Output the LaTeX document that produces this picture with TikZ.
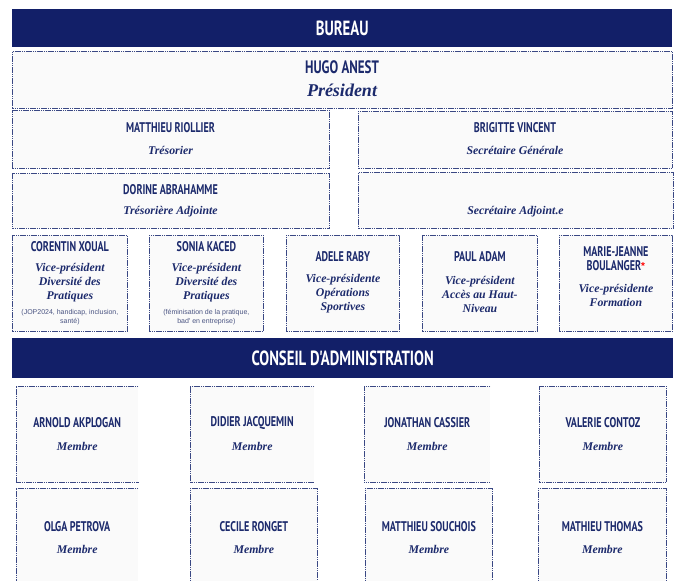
\documentclass[tikz,border=0pt]{standalone}
\usepackage{fontspec}
\setmainfont{Liberation Serif}
\newfontfamily\namefont[FakeStretch=0.72]{PT Sans}
\newfontfamily\rolefont{Liberation Serif}
\newfontfamily\smallfont{Liberation Sans}
\definecolor{navy}{HTML}{121F68}
\definecolor{ink}{HTML}{1C2A6C}
\definecolor{edge}{HTML}{3A4884}
\definecolor{boxfill}{HTML}{FAFAFA}
\definecolor{smallink}{HTML}{4A5482}
\tikzset{
  banner/.style={fill=navy, draw=none, anchor=north west, inner sep=0},
  bannertext/.style={font=\namefont\bfseries\fontsize{20.5}{21}\selectfont, text=white, inner sep=0},
  pbox/.style={fill=boxfill, draw=edge, line width=0.75pt, dash pattern=on 1.6pt off 0.6pt, anchor=north west, inner sep=0},
  openbox/.style={fill=boxfill, draw=none, anchor=north west, inner sep=0},
  edgeline/.style={draw=edge, line width=0.75pt, dash pattern=on 1.6pt off 0.6pt},
  pname/.style={font=\namefont\bfseries\fontsize{14}{14.5}\selectfont, text=ink, inner sep=0, align=center},
  bigname/.style={font=\namefont\bfseries\fontsize{18}{18}\selectfont, text=ink, inner sep=0},
  role/.style={font=\rolefont\bfseries\itshape\fontsize{11.8}{14}\selectfont, text=ink, align=center, inner sep=0},
  bigrole/.style={font=\rolefont\bfseries\itshape\fontsize{18}{18}\selectfont, text=ink, inner sep=0},
  note/.style={font=\smallfont\fontsize{7}{9}\selectfont, text=smallink, align=center, inner sep=0},
}
\newcommand{\orgbox}[5]{\node[pbox, minimum width=#4, minimum height=#5] (#1) at (#2,#3) {};}
\newcommand{\openrightbox}[5]{\node[openbox, minimum width=#4, minimum height=#5] (#1) at (#2,#3) {};
  \draw[edgeline] (#1.north east) -- (#1.north west) -- (#1.south west) -- (#1.south east);}
\begin{document}
\begin{tikzpicture}[x=1pt, y=-1pt]
\fill[white] (0,0) rectangle (678,581);
\useasboundingbox (0,0) rectangle (678,581);

% BUREAU
\node[banner, minimum width=660, minimum height=38] (bureau) at (12,9) {};
\node[bannertext] (bureau-t) at (bureau.center) {BUREAU};

\orgbox{pres}{12}{51}{660}{57}
\node[bigname] (pres-n) at (342,67) {HUGO ANEST};
\node[bigrole] (pres-r) at (342,90) {Président};

\orgbox{treso}{12}{110}{317}{58}
\node[pname] (treso-n) at (170.5,128) {MATTHIEU RIOLLIER};
\node[role] (treso-r) at (170.5,150) {Trésorier};

\orgbox{secg}{358}{111}{314}{57}
\node[pname] (secg-n) at (515,128) {BRIGITTE VINCENT};
\node[role] (secg-r) at (515,150) {Secrétaire Générale};

\orgbox{tresoa}{12}{173}{317}{55}
\node[pname] (tresoa-n) at (170.5,190) {DORINE ABRAHAMME};
\node[role] (tresoa-r) at (170.5,212) {Trésorière Adjointe};

\orgbox{seca}{358}{172}{315}{56}
\node[role] (seca-r) at (515.5,212) {Secrétaire Adjoint.e};

% Vice-presidents
\orgbox{vp1}{12}{235}{115}{96}
\node[pname] (vp1-n) at (vp1.center |- 0,247) {CORENTIN XOUAL};
\node[role] (vp1-r) at (vp1.center |- 0,283) {Vice-président\\Diversité des\\Pratiques};
\node[note] (vp1-s) at (vp1.center |- 0,317.5) {(JOP2024, handicap, inclusion,\\santé)};

\orgbox{vp2}{149}{235}{114}{96}
\node[pname] (vp2-n) at (vp2.center |- 0,247) {SONIA KACED};
\node[role] (vp2-r) at (vp2.center |- 0,283) {Vice-président\\Diversité des\\Pratiques};
\node[note] (vp2-s) at (vp2.center |- 0,317.5) {(féminisation de la pratique,\\bad' en entreprise)};

\orgbox{vp3}{286}{235}{113}{96}
\node[pname] (vp3-n) at (vp3.center |- 0,257) {ADELE RABY};
\node[role] (vp3-r) at (vp3.center |- 0,294) {Vice-présidente\\Opérations\\Sportives};

\orgbox{vp4}{422}{235}{115}{96}
\node[pname] (vp4-n) at (vp4.center |- 0,257) {PAUL ADAM};
\node[role] (vp4-r) at (vp4.center |- 0,294) {Vice-président\\Accès au Haut-\\Niveau};

\orgbox{vp5}{559}{235}{113}{96}
\node[pname] (vp5-n) at (vp5.center |- 0,258.5) {MARIE-JEANNE\\BOULANGER\smash{\raisebox{1.5pt}{\textcolor{red}{\smallfont\fontsize{10}{10}\selectfont *}}}};
\node[role] (vp5-r) at (vp5.center |- 0,295.5) {Vice-présidente\\Formation};

% CONSEIL
\node[banner, minimum width=661, minimum height=40] (ca) at (12,338) {};
\node[bannertext] (ca-t) at (ca.center) {CONSEIL D'ADMINISTRATION};

% Members row 1
\openrightbox{m1}{16}{386}{122}{96}
\node[pname] (m1-n) at (m1.center |- 0,423) {ARNOLD AKPLOGAN};
\node[role] (m1-r) at (m1.center |- 0,446) {Membre};

\openrightbox{m2}{190}{386}{124}{96}
\node[pname] (m2-n) at (m2.center |- 0,423) {DIDIER JACQUEMIN};
\node[role] (m2-r) at (m2.center |- 0,446) {Membre};

\openrightbox{m3}{364}{386}{126}{96}
\node[pname] (m3-n) at (m3.center |- 0,423) {JONATHAN CASSIER};
\node[role] (m3-r) at (m3.center |- 0,446) {Membre};

\orgbox{m4}{539}{386}{127}{96}
\node[pname] (m4-n) at (m4.center |- 0,423) {VALERIE CONTOZ};
\node[role] (m4-r) at (m4.center |- 0,446) {Membre};

% Members row 2
\openrightbox{m5}{16}{488}{122}{110}
\node[pname] (m5-n) at (m5.center |- 0,527) {OLGA PETROVA};
\node[role] (m5-r) at (m5.center |- 0,549) {Membre};

\orgbox{m6}{190}{488}{127}{110}
\node[pname] (m6-n) at (m6.center |- 0,527) {CECILE RONGET};
\node[role] (m6-r) at (m6.center |- 0,549) {Membre};

\orgbox{m7}{365}{488}{127}{110}
\node[pname] (m7-n) at (m7.center |- 0,527) {MATTHIEU SOUCHOIS};
\node[role] (m7-r) at (m7.center |- 0,549) {Membre};

\orgbox{m8}{538}{488}{128}{110}
\node[pname] (m8-n) at (m8.center |- 0,527) {MATHIEU THOMAS};
\node[role] (m8-r) at (m8.center |- 0,549) {Membre};
\end{tikzpicture}
\end{document}
